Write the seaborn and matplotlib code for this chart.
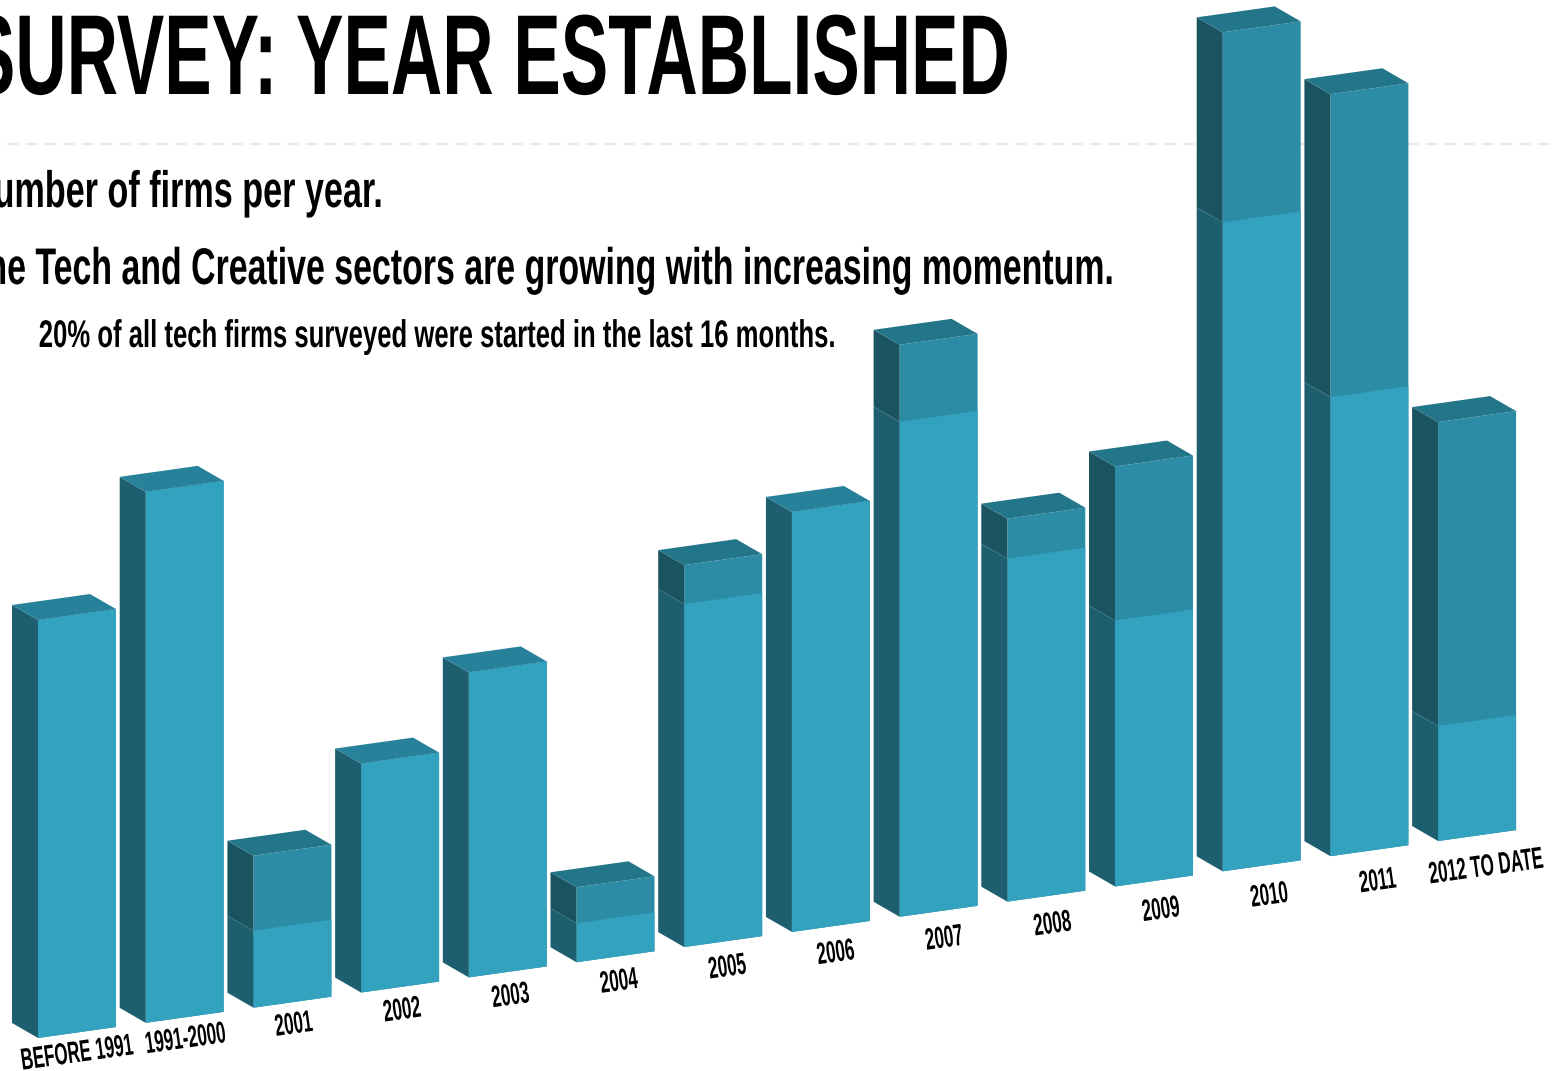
import matplotlib
matplotlib.use("Agg")
import matplotlib.pyplot as plt
import pandas as pd
import seaborn as sns
from matplotlib.patheffects import AbstractPathEffect
from matplotlib.transforms import Affine2D

# Chart data: bar heights for each founding period
periods = ["BEFORE 1991", "1991-2000", "2001", "2002", "2003", "2004", "2005",
           "2006", "2007", "2008", "2009", "2010", "2011", "2012 TO DATE"]
all_firms = [418, 531, 152, 229, 305, 75, 382, 420, 572, 383, 420, 839, 762, 419]
other_firms = [418, 531, 77, 229, 305, 39, 343, 420, 495, 343, 266, 649, 459, 115]

title_text = "SURVEY: YEAR ESTABLISHED"
line_one = "Number of firms per year."
line_two = "The Tech and Creative sectors are growing with increasing momentum."
line_three = "20% of all tech firms surveyed were started in the last 16 months."

LIGHT_FRONT = "#33a2be"
DARK_FRONT = "#2c8ca6"
LIGHT_SIDE = "#1d5f6f"
DARK_SIDE = "#1a5460"
LIGHT_TOP = "#28819a"
DARK_TOP = "#237589"

NARROW = ["Liberation Sans Narrow", "Liberation Sans", "DejaVu Sans"]


class TallText(AbstractPathEffect):
    """Stretches glyph outlines upward from the text's baseline."""

    def __init__(self, sy=1.0):
        super().__init__()
        self.sy = sy

    def draw_path(self, renderer, gc, tpath, affine, rgbFace=None):
        stretched = Affine2D().scale(1.0, self.sy) + affine
        renderer.draw_path(gc, tpath, stretched, rgbFace)


sns.set_theme(style="white")
plt.rcParams["font.family"] = NARROW

fig = plt.figure(figsize=(15.53, 10.71), dpi=100, facecolor="white")
ax = fig.add_axes([0, 0, 1, 1])

# Isometric projection: one category step runs up and to the right
STEP_RISE = 15.15
BAR_WIDTH = 0.724
DEPTH_X = -26 / 107.7
DEPTH_Y = 15 + STEP_RISE * 26 / 107.7
shear = Affine2D().from_values(1, STEP_RISE, 0, 1, 0, STEP_RISE * BAR_WIDTH / 2)
projected = shear + ax.transData

frame = pd.DataFrame({"period": periods, "all_firms": all_firms, "other_firms": other_firms})
sns.barplot(data=frame, x="period", y="all_firms", color=DARK_FRONT, saturation=1,
            width=BAR_WIDTH, ax=ax, zorder=3)
sns.barplot(data=frame, x="period", y="other_firms", color=LIGHT_FRONT, saturation=1,
            width=BAR_WIDTH, ax=ax, zorder=3)
for bar in ax.patches:
    bar.set_transform(projected)
    bar.set_linewidth(0)
    bar.set_clip_on(False)

# Side and top faces extend each front face backwards
for i, (total, other) in enumerate(zip(all_firms, other_firms)):
    left = i - BAR_WIDTH / 2
    right = i + BAR_WIDTH / 2
    back_left = left + DEPTH_X
    back_right = right + DEPTH_X
    ax.fill([left, left, back_left, back_left],
            [0, other, other + DEPTH_Y, DEPTH_Y],
            color=LIGHT_SIDE, lw=0, transform=projected, zorder=3, clip_on=False)
    if total > other:
        ax.fill([left, left, back_left, back_left],
                [other, total, total + DEPTH_Y, other + DEPTH_Y],
                color=DARK_SIDE, lw=0, transform=projected, zorder=3, clip_on=False)
    ax.fill([left, right, back_right, back_left],
            [total, total, total + DEPTH_Y, total + DEPTH_Y],
            color=DARK_TOP if total > other else LIGHT_TOP, lw=0,
            transform=projected, zorder=3, clip_on=False)

ax.set_xlim(-77 / 107.7, (1553 - 77) / 107.7)
ax.set_ylim(-33, 1038)
ax.set_axis_off()

# Dashed rule under the heading, passing behind the tallest bars
ax.plot([-0.65, 13.71], [894, 894], color="#e8e8e8", lw=1.6, zorder=1,
        dashes=(5.2, 3.2))


def px_text(x, baseline, text, size, sy, ha="right", rotation=0):
    fig.text(x / 1553, 1 - baseline / 1071, text, fontsize=size, ha=ha, va="baseline",
             fontweight="bold", color="black", rotation=rotation,
             rotation_mode="anchor", path_effects=[TallText(sy)])


px_text(1010, 94, title_text, 51.2, 1.6)
px_text(383, 207, line_one, 24.6, 1.5)
px_text(1113, 284, line_two, 24.4, 1.52)
px_text(838, 347, line_three, 18.5, 1.5)

# Period labels follow the slope of the bar bases
for i, label in enumerate(periods):
    px_text(78 + 108.4 * i, 1062 - 14.35 * i, label, 12.2, 1.8, ha="center", rotation=8)

fig.savefig("out.png", dpi=100, facecolor="white")
